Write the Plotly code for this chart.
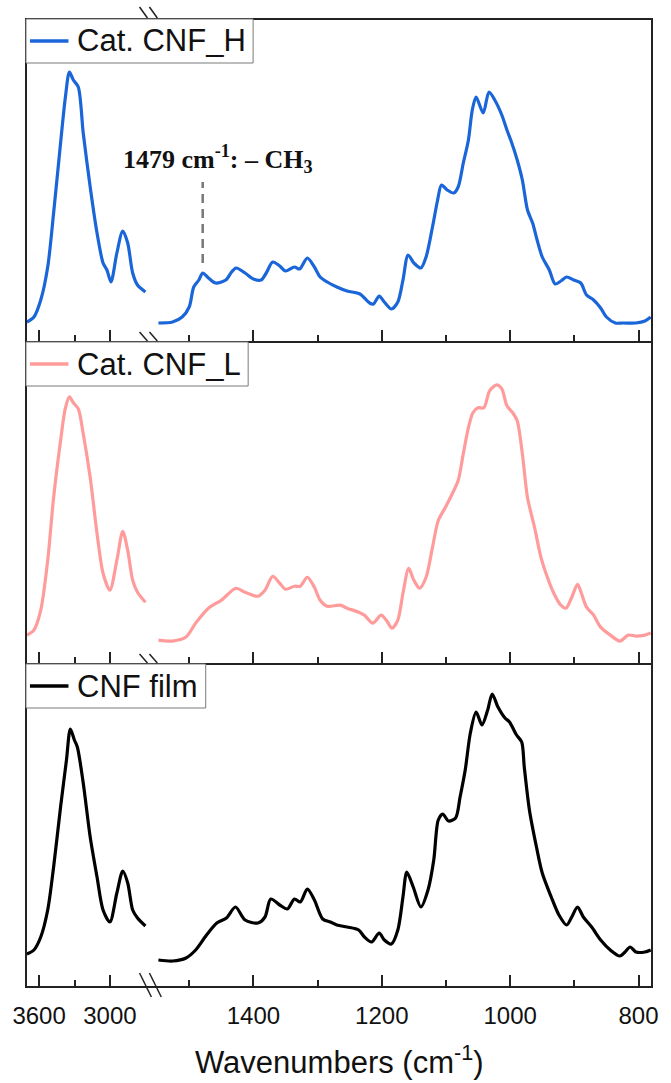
import plotly.graph_objects as go

# ---------------------------------------------------------------------------
# FTIR spectra (absorbance, a.u.) - O-H/C-H stretch region and fingerprint
# ---------------------------------------------------------------------------
# Cat. CNF_H
H_oh_wn = [3703, 3644, 3586, 3527, 3477, 3418, 3377, 3343, 3310, 3268, 3226,
           3167, 3109, 3058, 3025, 2991, 2941, 2891, 2849, 2807, 2766, 2699]
H_oh_abs = [0.20, 0.25, 0.42, 0.75, 1.29, 1.99, 2.45, 2.70, 2.62, 2.55, 2.09,
            1.55, 1.09, 0.79, 0.72, 0.60, 0.89, 1.11, 0.99, 0.69, 0.57, 0.50]
H_fp_wn = [1548, 1526, 1511, 1500, 1493, 1485, 1479, 1470, 1459, 1443,
           1434, 1427, 1413, 1400, 1388, 1380, 1370, 1359, 1350, 1336,
           1328, 1316, 1305, 1296, 1285, 1270, 1254, 1234, 1219, 1213,
           1204, 1196, 1185, 1175, 1167, 1159, 1150, 1139, 1131, 1121,
           1113, 1107, 1098, 1088, 1081, 1073, 1065, 1059, 1053, 1042,
           1033, 1024, 1013, 1005, 998, 989, 981, 973, 965, 958,
           950, 939, 930, 921, 912, 901, 890, 881, 870, 859,
           850, 836, 824, 804, 790, 781]
H_fp_abs = [0.19, 0.20, 0.25, 0.35, 0.55, 0.62, 0.69, 0.64, 0.59, 0.62,
            0.70, 0.74, 0.69, 0.63, 0.62, 0.69, 0.80, 0.76, 0.71, 0.75,
            0.73, 0.84, 0.75, 0.65, 0.60, 0.55, 0.51, 0.48, 0.39, 0.38,
            0.46, 0.40, 0.33, 0.40, 0.62, 0.87, 0.79, 0.74, 0.85, 1.15,
            1.42, 1.57, 1.52, 1.49, 1.55, 1.79, 2.02, 2.32, 2.45, 2.29,
            2.50, 2.42, 2.27, 2.12, 2.00, 1.82, 1.62, 1.32, 1.19, 1.02,
            0.85, 0.72, 0.58, 0.61, 0.65, 0.62, 0.59, 0.47, 0.42, 0.34,
            0.25, 0.19, 0.19, 0.19, 0.21, 0.25]

# Cat. CNF_L
L_oh_wn = [3703, 3644, 3586, 3527, 3477, 3418, 3377, 3343, 3310, 3268, 3226,
           3167, 3109, 3058, 3000, 2941, 2891, 2849, 2807, 2766, 2699]
L_oh_abs = [0.29, 0.34, 0.54, 1.04, 1.67, 2.24, 2.57, 2.68, 2.62, 2.56, 2.31,
            1.87, 1.31, 0.91, 0.74, 1.04, 1.33, 1.14, 0.84, 0.72, 0.62]
L_fp_wn = [1548, 1526, 1505, 1490, 1470, 1450, 1427, 1413, 1393, 1382,
           1370, 1359, 1350, 1336, 1327, 1316, 1305, 1296, 1285, 1265,
           1254, 1236, 1227, 1214, 1201, 1193, 1184, 1175, 1167, 1158,
           1150, 1141, 1131, 1121, 1112, 1101, 1090, 1081, 1073, 1065,
           1058, 1050, 1041, 1032, 1021, 1013, 1005, 996, 989, 981,
           973, 962, 952, 942, 932, 921, 913, 904, 895, 889,
           881, 870, 859, 844, 829, 816, 804, 790, 781]
L_fp_abs = [0.24, 0.23, 0.27, 0.41, 0.56, 0.64, 0.76, 0.72, 0.68, 0.74,
            0.88, 0.81, 0.75, 0.78, 0.78, 0.87, 0.77, 0.64, 0.58, 0.59,
            0.56, 0.52, 0.49, 0.41, 0.49, 0.44, 0.36, 0.44, 0.71, 0.96,
            0.84, 0.76, 0.87, 1.17, 1.44, 1.57, 1.71, 1.84, 2.11, 2.37,
            2.52, 2.57, 2.57, 2.74, 2.80, 2.76, 2.59, 2.52, 2.44, 2.11,
            1.67, 1.37, 1.07, 0.87, 0.71, 0.59, 0.56, 0.67, 0.80, 0.71,
            0.57, 0.49, 0.37, 0.29, 0.23, 0.29, 0.28, 0.29, 0.31]

# CNF film
F_oh_wn = [3703, 3644, 3586, 3527, 3477, 3418, 3368, 3335, 3301, 3276, 3226,
           3167, 3109, 3058, 3000, 2941, 2891, 2849, 2807, 2766, 2699]
F_oh_abs = [0.33, 0.37, 0.50, 0.77, 1.20, 1.80, 2.27, 2.58, 2.47, 2.40, 2.04,
            1.50, 1.10, 0.77, 0.65, 0.94, 1.16, 1.04, 0.77, 0.69, 0.61]
F_fp_wn = [1548, 1526, 1505, 1490, 1473, 1457, 1442, 1428, 1413, 1393,
           1382, 1373, 1359, 1347, 1336, 1327, 1316, 1305, 1292, 1280,
           1270, 1254, 1236, 1227, 1216, 1204, 1196, 1185, 1175, 1167,
           1161, 1151, 1139, 1128, 1119, 1112, 1105, 1096, 1085, 1078,
           1070, 1062, 1053, 1044, 1035, 1028, 1019, 1008, 1001, 990,
           982, 978, 970, 959, 950, 936, 924, 912, 904, 895,
           886, 873, 859, 844, 829, 821, 813, 804, 790, 781]
F_fp_abs = [0.27, 0.26, 0.29, 0.37, 0.52, 0.64, 0.69, 0.80, 0.67, 0.64,
            0.70, 0.88, 0.82, 0.78, 0.88, 0.85, 0.98, 0.87, 0.68, 0.65,
            0.62, 0.60, 0.57, 0.50, 0.45, 0.54, 0.47, 0.43, 0.57, 0.90,
            1.15, 1.00, 0.80, 0.97, 1.27, 1.67, 1.73, 1.66, 1.69, 1.90,
            2.17, 2.54, 2.75, 2.62, 2.77, 2.93, 2.80, 2.69, 2.65, 2.52,
            2.45, 2.20, 1.77, 1.40, 1.14, 0.90, 0.72, 0.62, 0.70, 0.80,
            0.70, 0.60, 0.47, 0.37, 0.31, 0.35, 0.40, 0.35, 0.35, 0.37]

labels = ["Cat. CNF_H", "Cat. CNF_L", "CNF film"]
colors = ["#1a66d9", "#ff9b9b", "#000000"]
oh_wn = [H_oh_wn, L_oh_wn, F_oh_wn]
oh_abs = [H_oh_abs, L_oh_abs, F_oh_abs]
fp_wn = [H_fp_wn, L_fp_wn, F_fp_wn]
fp_abs = [H_fp_abs, L_fp_abs, F_fp_abs]

oh_ticks = [3600, 3000]
oh_minor = [3300]
fp_ticks = [1400, 1200, 1000, 800]
fp_minor = [1500, 1300, 1100, 900]

CH3_BAND = 1479
CH3_MARK = (0.79, 1.60)

# ---------------------------------------------------------------------------
# Geometry helpers (pixel -> paper fractions)
# ---------------------------------------------------------------------------
W, H = 671, 1083
PL, PR, PT, PB = 25, 659, 19, 987


def px(x):
    return (x - PL) / (PR - PL)


def py(y):
    return (PB - y) / (PB - PT)


row_top_px = [19, 342, 664]
row_dom = [[py(342), 1.0], [py(664), py(342)], [0.0, py(664)]]
legend_right_px = [255, 250, 207]
split = px(150)
OH_RANGE = [3711, 2665]
FP_RANGE = [1562, 779]
Y_RANGE = [0, 3.23]

SANS = "Arial, Liberation Sans, sans-serif"
SERIF = "Times New Roman, Liberation Serif, serif"
INK = "#222222"

fig = go.Figure()
layout = dict(
    width=W, height=H, autosize=False, showlegend=False,
    margin=dict(l=PL, r=W - PR, t=PT, b=H - PB, pad=0),
    paper_bgcolor="white", plot_bgcolor="white",
    font=dict(family=SANS, color="#111111"),
    shapes=[], annotations=[],
)

for i in range(3):
    xl, xr, yy = 2 * i + 1, 2 * i + 2, i + 1
    xl_ref = "x" if xl == 1 else f"x{xl}"
    xr_ref = f"x{xr}"
    y_ref = "y" if yy == 1 else f"y{yy}"

    for xs, ys, xref in ((oh_wn[i], oh_abs[i], xl_ref),
                         (fp_wn[i], fp_abs[i], xr_ref)):
        fig.add_trace(go.Scatter(
            x=xs, y=ys, xaxis=xref, yaxis=y_ref, mode="lines",
            line=dict(color=colors[i], width=3.2, shape="spline",
                      smoothing=0.8),
            name=labels[i], hoverinfo="skip"))

    common = dict(
        anchor=y_ref, showline=False, showgrid=False, zeroline=False,
        ticks="inside", ticklen=12, tickwidth=2, tickcolor=INK,
        showticklabels=(i == 2), ticklabelstandoff=12,
        tickfont=dict(size=24, color="#111111", family=SANS),
        fixedrange=True,
    )
    layout["xaxis" if xl == 1 else f"xaxis{xl}"] = dict(
        domain=[0, split], range=OH_RANGE, tickvals=oh_ticks,
        minor=dict(ticks="inside", ticklen=7, tickwidth=2, tickcolor=INK,
                   tickvals=oh_minor, showgrid=False),
        **common)
    layout[f"xaxis{xr}"] = dict(
        domain=[split, 1], range=FP_RANGE, tickvals=fp_ticks,
        minor=dict(ticks="inside", ticklen=7, tickwidth=2, tickcolor=INK,
                   tickvals=fp_minor, showgrid=False),
        **common)
    layout["yaxis" if yy == 1 else f"yaxis{yy}"] = dict(
        domain=row_dom[i], range=Y_RANGE, visible=False, fixedrange=True,
        anchor=xl_ref)

    # panel frame
    layout["shapes"].append(dict(
        type="rect", xref="paper", yref="paper", x0=0, x1=1,
        y0=row_dom[i][0], y1=row_dom[i][1],
        line=dict(color=INK, width=2), layer="above"))

    # legend box: frame, line sample and label
    top = row_top_px[i]
    mid = top + 22
    layout["shapes"].append(dict(
        type="rect", xref="paper", yref="paper",
        x0=px(PL), x1=px(legend_right_px[i]), y0=py(top + 44), y1=py(top),
        fillcolor="white", line=dict(color="#7a7a7a", width=1),
        layer="above"))
    layout["shapes"].append(dict(
        type="line", xref="paper", yref="paper",
        x0=px(29), x1=px(68), y0=py(mid), y1=py(mid),
        line=dict(color=colors[i], width=3.5), layer="above"))
    layout["annotations"].append(dict(
        xref="paper", yref="paper", x=px(75), y=py(mid),
        xanchor="left", yanchor="middle", showarrow=False,
        text=labels[i], font=dict(family=SANS, size=31, color="#111111")))

# axis-break marks
for ytop, ybot in [(7, 18), (332, 341), (654, 663)]:
    for x0 in (140, 150):
        layout["shapes"].append(dict(
            type="line", xref="paper", yref="paper",
            x0=px(x0), x1=px(x0 + 8), y0=py(ytop), y1=py(ybot),
            line=dict(color=INK, width=1.5), layer="above"))
for x0 in (140, 150):
    layout["shapes"].append(dict(
        type="line", xref="paper", yref="paper",
        x0=px(x0), x1=px(x0 + 12), y0=py(973), y1=py(997),
        line=dict(color=INK, width=1.5), layer="above"))

# CH3 band marker
layout["shapes"].append(dict(
    type="line", xref="x2", yref="y", x0=CH3_BAND, x1=CH3_BAND,
    y0=CH3_MARK[0], y1=CH3_MARK[1],
    line=dict(color="#777777", width=2.5, dash="9px,6px")))
layout["annotations"].append(dict(
    xref="paper", yref="paper", x=px(121), y=py(159),
    xanchor="left", yanchor="middle", showarrow=False,
    text=f"<b>{CH3_BAND} cm<sup>-1</sup>: \u2013 CH<sub>3</sub></b>",
    font=dict(family=SERIF, size=26, color="#111111")))

# shared x-axis title
layout["annotations"].append(dict(
    xref="paper", yref="paper", x=0.5, y=py(1060),
    xanchor="center", yanchor="middle", showarrow=False,
    text="Wavenumbers (cm<sup>-1</sup>)",
    font=dict(family=SANS, size=31, color="#111111")))

fig.update_layout(**layout)
fig.write_html("out.html")
